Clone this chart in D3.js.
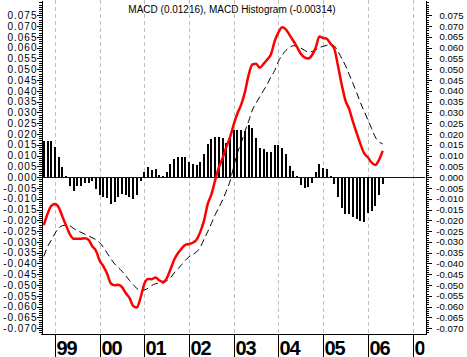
<!DOCTYPE html>
<html><head><meta charset="utf-8">
<script src="https://cdn.jsdelivr.net/npm/d3@7"></script>
<style>
body{margin:0;background:#fff;}
svg{display:block;font-family:"Liberation Sans",Arial,sans-serif;}
</style>
</head><body>
<svg id="c" width="467" height="357"></svg>
<script>
// ---- data (monthly, first bar = Oct 1998) ----
const firstMonth = 1998.75;
const histogram = [0.0168,0.0168,0.0168,0.0138,0.0093,0.0046,0.0004,-0.0039,-0.0062,-0.0043,
  -0.0043,-0.0025,-0.0025,-0.0018,-0.0054,-0.0082,-0.0093,-0.0097,-0.0125,-0.0113,
  -0.0093,-0.0077,-0.0082,-0.0090,-0.0102,-0.0082,-0.0020,0.0026,0.0046,0.0031,
  0.0038,0.0011,0.0004,0.0022,0.0062,0.0085,0.0094,0.0093,0.0094,0.0070,
  0.0062,0.0058,0.0070,0.0109,0.0155,0.0175,0.0186,0.0186,0.0183,0.0158,
  0.0188,0.0218,0.0218,0.0219,0.0215,0.0243,0.0230,0.0182,0.0134,0.0130,
  0.0115,0.0117,0.0147,0.0149,0.0134,0.0105,0.0053,0.0029,0.0004,-0.0037,
  -0.0051,-0.0047,-0.0025,0.0023,0.0061,0.0042,0.0037,0.0003,-0.0034,-0.0094,
  -0.0144,-0.0170,-0.0172,-0.0187,-0.0194,-0.0205,-0.0208,-0.0165,-0.0157,-0.0136,
  -0.0084,-0.0031];
const macd = [-0.0222,-0.0170,-0.0133,-0.0124,-0.0140,-0.0183,-0.0225,-0.0265,-0.0286,-0.0286,
  -0.0285,-0.0283,-0.0290,-0.0320,-0.0341,-0.0387,-0.0414,-0.0448,-0.0493,-0.0501,
  -0.0499,-0.0510,-0.0537,-0.0560,-0.0597,-0.0604,-0.0557,-0.0494,-0.0472,-0.0473,
  -0.0465,-0.0478,-0.0486,-0.0469,-0.0428,-0.0383,-0.0353,-0.0331,-0.0314,-0.0310,
  -0.0304,-0.0290,-0.0255,-0.0203,-0.0125,-0.0080,-0.0015,0.0045,0.0088,0.0139,
  0.0185,0.0245,0.0296,0.0336,0.0394,0.0474,0.0522,0.0525,0.0507,0.0525,
  0.0545,0.0570,0.0630,0.0671,0.0695,0.0685,0.0658,0.0632,0.0603,0.0572,
  0.0555,0.0550,0.0565,0.0600,0.0652,0.0645,0.0641,0.0618,0.0595,0.0515,
  0.0428,0.0355,0.0315,0.0257,0.0205,0.0154,0.0111,0.0092,0.0068,0.0056,
  0.0080,0.0122];
const signal = [-0.0367,-0.0322,-0.0292,-0.0260,-0.0237,-0.0225,-0.0223,-0.0226,-0.0238,-0.0248,
  -0.0256,-0.0264,-0.0272,-0.0281,-0.0290,-0.0304,-0.0326,-0.0352,-0.0378,-0.0402,
  -0.0419,-0.0436,-0.0457,-0.0479,-0.0498,-0.0516,-0.0527,-0.0523,-0.0515,-0.0502,
  -0.0494,-0.0491,-0.0491,-0.0480,-0.0467,-0.0444,-0.0425,-0.0406,-0.0385,-0.0369,
  -0.0358,-0.0347,-0.0325,-0.0289,-0.0253,-0.0215,-0.0175,-0.0141,-0.0106,-0.0065,
  -0.0019,0.0050,0.0113,0.0158,0.0212,0.0259,0.0311,0.0343,0.0373,0.0402,
  0.0431,0.0465,0.0494,0.0536,0.0565,0.0587,0.0601,0.0609,0.0607,0.0598,
  0.0588,0.0580,0.0582,0.0590,0.0600,0.0606,0.0611,0.0615,0.0608,0.0583,
  0.0550,0.0517,0.0476,0.0435,0.0392,0.0346,0.0306,0.0266,0.0226,0.0186,
  0.0164,0.0154];
const yearTicks = [1999,2000,2001,2002,2003,2004,2005,2006,2007];
const yearLabels = ["99","00","01","02","03","04","05","06","07"];
const yTickValues = [-0.070,-0.065,-0.060,-0.055,-0.050,-0.045,-0.040,-0.035,-0.030,-0.025,-0.020,-0.015,-0.010,-0.005,
  0.000,0.005,0.010,0.015,0.020,0.025,0.030,0.035,0.040,0.045,0.050,0.055,0.060,0.065,0.070,0.075];
const titleText = "MACD (0.01216), MACD Histogram (-0.00314)";

// ---- layout ----
const W = 467, H = 357;
const L = 41, R = 425, T = 0, B = 334;
const svg = d3.select("#c");
const x = d3.scaleLinear().domain([1999, 2007]).range([55, 412.5]);
const y = d3.scaleLinear().domain([-0.0727, 0.0821]).range([B, T]);
const fmt = v => (v < 0 ? "-" : "") + Math.abs(v).toFixed(3);
const minorTicks = d3.range(-72, 82).map(k => k / 1000);
const dates = macd.map((d, i) => firstMonth + i / 12);
const px = v => Math.round(v) + 0.5;

// gridlines
svg.append("g").selectAll("line").data(yearTicks).join("line")
  .attr("x1", d => px(x(d))).attr("x2", d => px(x(d)))
  .attr("y1", T).attr("y2", B)
  .attr("stroke", "#c0c0c0").attr("stroke-dasharray", "4,3");

// histogram
const y0 = y(0);
svg.append("g").selectAll("rect").data(histogram).join("rect")
  .attr("x", (d, i) => Math.round(x(dates[i]) - 1))
  .attr("width", 2)
  .attr("y", d => Math.min(y(d), y0))
  .attr("height", d => Math.abs(y(d) - y0))
  .attr("fill", "#000").attr("shape-rendering", "crispEdges");

// zero line
svg.append("line").attr("x1", L).attr("x2", R)
  .attr("y1", px(y0 - 0.5)).attr("y2", px(y0 - 0.5))
  .attr("stroke", "#0000cd");

// signal
const line = d3.line().x((d, i) => x(dates[i])).y(d => y(d)).curve(d3.curveMonotoneX);
svg.append("path").datum(signal).attr("d", line)
  .attr("fill", "none").attr("stroke", "#000").attr("stroke-width", 1)
  .attr("stroke-dasharray", "7,4");
// macd
svg.append("path").datum(macd).attr("d", line)
  .attr("fill", "none").attr("stroke", "#ff0000").attr("stroke-width", 2.5)
  .attr("stroke-linejoin", "round");

// axes
function styleAxis(g) {
  g.selectAll("path,line").attr("stroke", "#000").attr("shape-rendering", "crispEdges");
}
svg.append("g").attr("transform", `translate(${L + 0.5},0)`)
  .call(d3.axisLeft(y).tickValues(minorTicks).tickSize(3).tickSizeOuter(0).tickFormat(""))
  .call(styleAxis);
const gl = svg.append("g").attr("transform", `translate(${L + 0.5},0)`)
  .call(d3.axisLeft(y).tickValues(yTickValues).tickSize(5).tickSizeOuter(0).tickFormat(fmt))
  .call(styleAxis);
gl.selectAll("text").attr("x", -4).attr("font-size", 10).attr("letter-spacing", 1)
  .attr("fill", "#000").attr("font-family", "Liberation Sans, Arial, sans-serif");

svg.append("g").attr("transform", `translate(${R + 0.5},0)`)
  .call(d3.axisRight(y).tickValues(minorTicks).tickSize(3).tickSizeOuter(0).tickFormat(""))
  .call(styleAxis);
const gr = svg.append("g").attr("transform", `translate(${R + 0.5},0)`)
  .call(d3.axisRight(y).tickValues(yTickValues).tickSize(6).tickSizeOuter(0).tickFormat(fmt))
  .call(styleAxis);
gr.selectAll("text").attr("x", 38).attr("text-anchor", "end").attr("font-size", 9.6)
  .attr("fill", "#000").attr("font-family", "Liberation Sans, Arial, sans-serif");

// bottom axis line
svg.append("line").attr("x1", L).attr("x2", R + 1).attr("y1", B + 0.5).attr("y2", B + 0.5)
  .attr("stroke", "#000");

// year separators and labels (the last label is cut by the plot edge, as in the reference)
svg.append("defs").append("clipPath").attr("id", "lab")
  .append("rect").attr("x", 0).attr("y", B).attr("width", 424.5).attr("height", H - B);
const gy = svg.append("g");
gy.selectAll("line").data(yearTicks).join("line")
  .attr("x1", d => px(x(d))).attr("x2", d => px(x(d)))
  .attr("y1", B).attr("y2", H).attr("stroke", "#000");
gy.selectAll("text").data(yearTicks).join("text")
  .attr("x", d => Math.round(x(d)) + 1.5).attr("y", 354.5)
  .attr("font-size", 20).attr("font-weight", "bold").attr("letter-spacing", -1)
  .attr("clip-path", (d, i) => i === yearTicks.length - 1 ? "url(#lab)" : null)
  .text((d, i) => yearLabels[i]);

// title
svg.append("text").attr("x", 232).attr("y", 13).attr("text-anchor", "middle")
  .attr("font-size", 10).text(titleText);
</script>
</body></html>
